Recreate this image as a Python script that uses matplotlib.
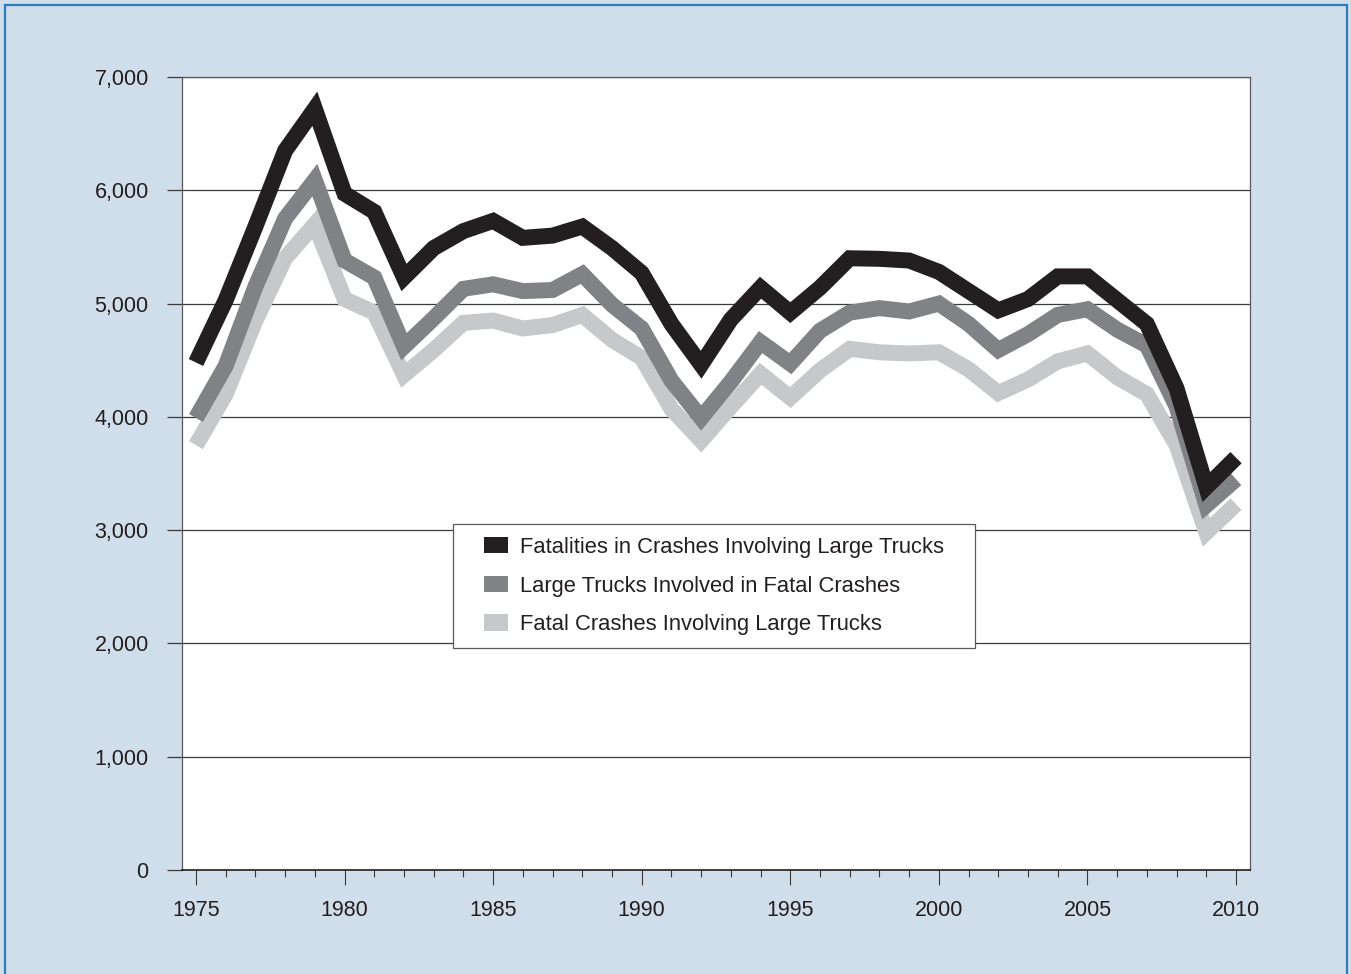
import numpy as np
import matplotlib.pyplot as plt
from matplotlib.patches import Patch, Rectangle
from matplotlib.ticker import MultipleLocator, FuncFormatter

plt.rcParams['font.family'] = ['Liberation Sans', 'DejaVu Sans']

# ---- data ----
years = list(range(1975, 2011))

fatalities = [4480, 5030, 5680, 6350, 6720, 5970, 5810, 5230, 5490, 5640,
              5730, 5580, 5600, 5680, 5490, 5270, 4820, 4460, 4860, 5140,
              4920, 5140, 5400, 5395, 5380, 5280, 5110, 4940, 5040, 5240,
              5240, 5030, 4820, 4250, 3380, 3640]

trucks_involved = [3990, 4450, 5150, 5750, 6090, 5380, 5230, 4620, 4870, 5130,
                   5170, 5110, 5120, 5260, 4990, 4780, 4320, 3990, 4310, 4660,
                   4470, 4760, 4920, 4960, 4930, 5000, 4820, 4590, 4730, 4900,
                   4950, 4770, 4630, 4090, 3220, 3450]

fatal_crashes = [3750, 4200, 4850, 5400, 5700, 5040, 4920, 4370, 4590, 4830,
                 4850, 4780, 4810, 4900, 4680, 4520, 4070, 3790, 4090, 4380,
                 4170, 4410, 4600, 4570, 4560, 4570, 4420, 4210, 4330, 4490,
                 4560, 4350, 4200, 3750, 2980, 3230]

series = [
    ('Fatal Crashes Involving Large Trucks', fatal_crashes, '#C7C8CA'),
    ('Large Trucks Involved in Fatal Crashes', trucks_involved, '#808285'),
    ('Fatalities in Crashes Involving Large Trucks', fatalities, '#231F20'),
]

bg = '#D0DDEB'
fig = plt.figure(figsize=(13.51, 9.74), dpi=100, facecolor=bg)
ax = fig.add_axes([182 / 1351, 1 - 870 / 974, 1068 / 1351, 793 / 974])
ax.set_facecolor('white')

for name, vals, color in series:
    ax.plot(years, vals, color=color, linewidth=11.5,
            solid_joinstyle='miter', solid_capstyle='butt', zorder=3)

ax.set_xlim(1974.53, 2010.47)
ax.set_ylim(0, 7000)

ax.yaxis.set_major_locator(MultipleLocator(1000))
ax.yaxis.set_major_formatter(FuncFormatter(lambda v, p: f'{int(v):,}'))
ax.grid(axis='y', color='#3a3a3a', linewidth=0.9, zorder=1)

ax.xaxis.set_major_locator(MultipleLocator(5))
ax.xaxis.set_minor_locator(MultipleLocator(1))
ax.tick_params(axis='x', which='major', direction='out', length=11, width=0.8,
               color='#3a3a3a', labelsize=15.5, pad=10.5, labelcolor='#231F20')
ax.tick_params(axis='x', which='minor', direction='out', length=5, width=0.8,
               color='#3a3a3a')
ax.tick_params(axis='y', direction='out', length=11, width=0.9,
               color='#3a3a3a', labelsize=15.5, pad=13, labelcolor='#231F20')

for side in ['left', 'right', 'top']:
    ax.spines[side].set_color('#5a5a5a')
    ax.spines[side].set_linewidth(0.9)
ax.spines['bottom'].set_color('#231F20')
ax.spines['bottom'].set_linewidth(1.2)

handles = [Patch(facecolor=c, edgecolor='none', label=n) for n, v, c in series[::-1]]
leg = ax.legend(handles=handles, loc='center', bbox_to_anchor=(0.498, 0.358),
                fontsize=15.8, frameon=False, handlelength=1.1, handleheight=0.75,
                handletextpad=0.55, labelspacing=0.8, borderpad=0.58,
                borderaxespad=0)
leg.set_zorder(6)
for t in leg.get_texts():
    t.set_color('#231F20')

# legend box: wider side padding than matplotlib gives
fig.canvas.draw()
bb = leg.get_window_extent()
extra = 18
(x0, y0), (x1, y1) = ax.transAxes.inverted().transform(
    [(bb.x0 - extra, bb.y0), (bb.x1 + extra, bb.y1)])
ax.add_patch(Rectangle((x0, y0), x1 - x0, y1 - y0, transform=ax.transAxes,
                       facecolor='white', edgecolor='#5a5a5a', linewidth=0.9,
                       zorder=5))

# blue frame round the figure
fig.patches.append(Rectangle((5 / 1351, -0.01), 1342 / 1351, 1 - 5 / 974 + 0.01,
                             transform=fig.transFigure, facecolor='none',
                             edgecolor='#2E7BB8', linewidth=1.6))

fig.savefig('out.png', dpi=100, facecolor=bg)
